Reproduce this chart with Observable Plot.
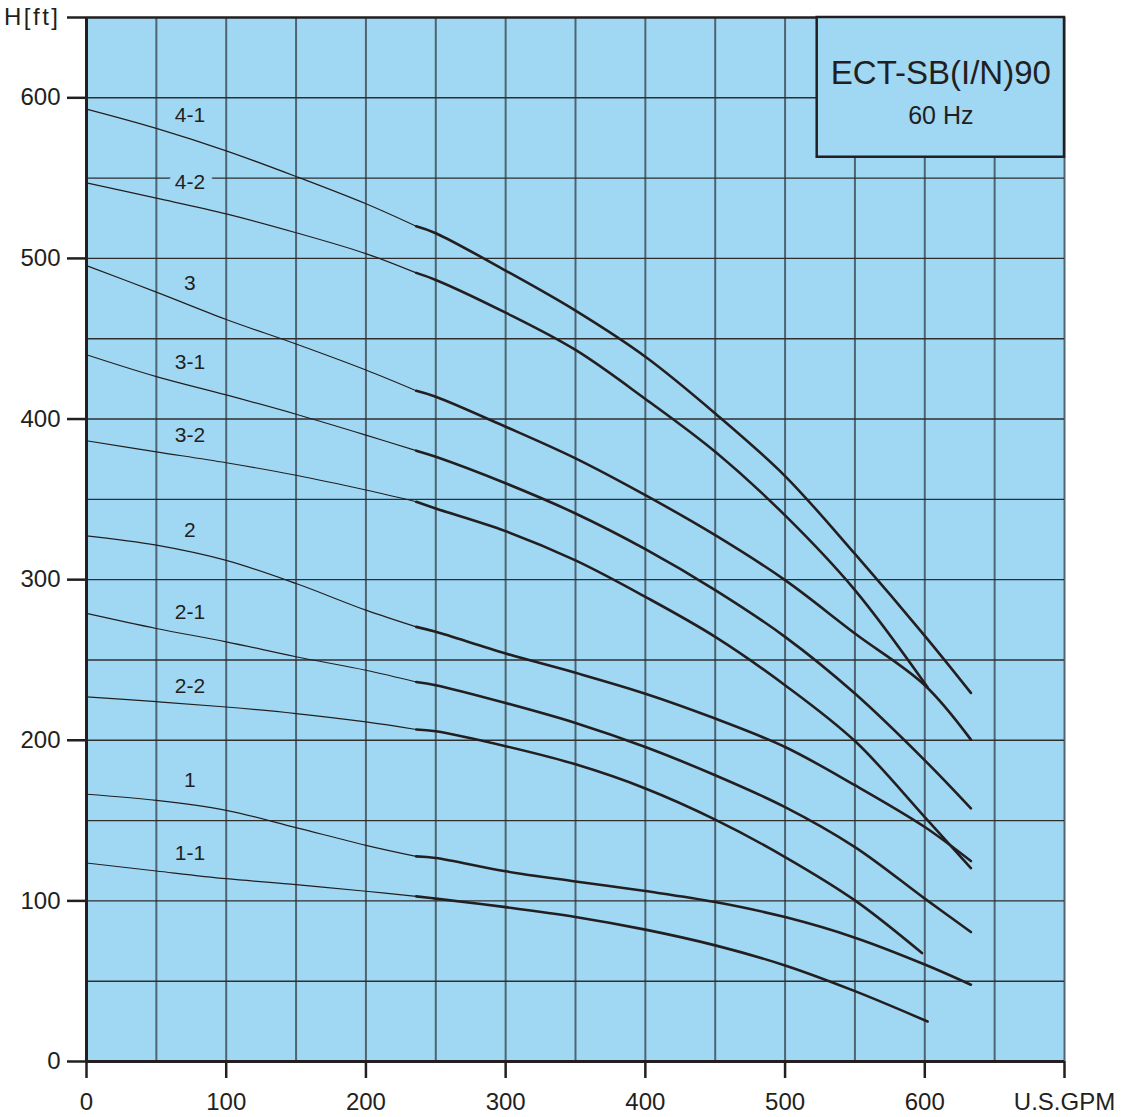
<!DOCTYPE html>
<html>
<head>
<meta charset="utf-8">
<script src="https://cdn.jsdelivr.net/npm/d3@7"></script>
<script src="https://cdn.jsdelivr.net/npm/@observablehq/plot@0.6"></script>
<style>
  html, body { margin: 0; padding: 0; background: #ffffff; }
  #chart { width: 1124px; height: 1117px; }
</style>
</head>
<body>
<div id="chart"></div>
<script>
// ---- data ----
const curveNames = ["4-1", "4-2", "3", "3-1", "3-2", "2", "2-1", "2-2", "1", "1-1"];
// flow points (U.S.GPM); the last value of every head list sits at lastFlow
const flow = [0, 50, 100, 150, 200, 236, 250, 300, 350, 400, 450, 500, 550, 600, 633];
const lastFlow = [633, 602, 633, 633, 633, 633, 633, 598, 633, 602];
const thinUntil = 236; // thin line up to here, thick after

const head_4_1 = [593, 581, 567, 551, 534, 520, 515.7, 492.4, 467.5, 438.8, 403.5, 364.5, 316, 265, 229.5];
const head_4_2 = [547, 537.5, 527.7, 516, 503, 491, 486.6, 466.2, 443, 412.5, 379.6, 340, 293.5, 233];
const head_3   = [495.5, 479, 462, 446.7, 430.5, 417.6, 413.9, 395.2, 375.5, 352.6, 327.7, 299.7, 266.5, 234.3, 200.4];
const head_3_1 = [440, 426.4, 415, 403, 390, 380.3, 376.5, 360, 341.2, 319, 293.5, 264.4, 229.1, 187.5, 157.6];
const head_3_2 = [386.5, 379.6, 372.8, 365, 355.8, 348.5, 344.3, 330.2, 312, 289.3, 264.4, 234.3, 199.5, 152.2, 120.4];
const head_2   = [327.3, 321.5, 312, 297.6, 281, 270.6, 267.5, 254, 242, 229, 213.5, 195.8, 172, 146, 124.8];
const head_2_1 = [279, 269.6, 261.3, 252, 243.6, 236.3, 234.3, 223.2, 210.8, 195.8, 178.2, 158.4, 133.5, 101.4, 80.6];
const head_2_2 = [227, 224, 220.7, 216.6, 211.4, 206.7, 205.6, 196.3, 185, 170, 150.6, 127.3, 100.3, 67.5];
const head_1   = [166.4, 162.6, 156.4, 145.6, 134.6, 127.7, 126.7, 118.4, 112.1, 106.1, 99.3, 89.9, 77.1, 60.4, 47.8];
const head_1_1 = [123.6, 118.6, 113.8, 110.1, 106, 102.8, 101.4, 96.1, 90, 82.1, 72.3, 59.8, 43.8, 24.9];

// curve label anchors (flow, head)
const labelFlow = 74;
const labelHead = [589.4, 547.7, 484.7, 435.5, 390, 330.8, 279.8, 233.6, 175, 129.6];

const xTicks = [0, 100, 200, 300, 400, 500, 600, 700];
const yTicks = [0, 100, 200, 300, 400, 500, 600, 650];
const xUnit = "U.S.GPM";
const yUnit = "H[ft]";
const modelTitle = "ECT-SB(I/N)90";
const modelFreq = "60 Hz";

// ---- build rows ----
const heads = [head_4_1, head_4_2, head_3, head_3_1, head_3_2, head_2, head_2_1, head_2_2, head_1, head_1_1];
const thinRows = [], thickRows = [];
heads.forEach((arr, k) => {
  arr.forEach((h, i) => {
    const q = i === arr.length - 1 ? lastFlow[k] : flow[i];
    const row = {name: curveNames[k], q, h};
    if (q <= thinUntil) thinRows.push(row);
    if (q >= thinUntil) thickRows.push(row);
  });
});
const labels = curveNames.map((name, i) => ({name, q: labelFlow, h: labelHead[i]}));

const bg = "#a0d8f4";
const ink = "#231f20";
const box = {x1: 523, x2: 700, y1: 563, y2: 650};

const chart = Plot.plot({
  width: 1124,
  height: 1117,
  marginLeft: 86,
  marginRight: 60,
  marginTop: 17,
  marginBottom: 56,
  style: {fontFamily: "'Liberation Sans', Arial, Helvetica, sans-serif", background: "#ffffff", color: ink},
  x: {domain: [0, 700]},
  y: {domain: [0, 650]},
  marks: [
    Plot.frame({fill: bg, stroke: null}),
    Plot.ruleX(d3.range(50, 701, 50), {stroke: "#4f6470", strokeWidth: 2}),
    Plot.ruleY(d3.range(50, 601, 50), {stroke: "#2e2e2e", strokeWidth: 1.4}),
    Plot.ruleY([650], {stroke: ink, strokeWidth: 2.5}),
    Plot.rect([box], {x1: "x1", x2: "x2", y1: "y1", y2: "y2", fill: bg, stroke: ink, strokeWidth: 2.5}),
    Plot.text([modelTitle], {x: (box.x1 + box.x2) / 2, y: 615, text: d => d, fontSize: 33, fill: ink}),
    Plot.text([modelFreq], {x: (box.x1 + box.x2) / 2, y: 588.5, text: d => d, fontSize: 25, fill: ink}),
    Plot.line(thinRows, {x: "q", y: "h", z: "name", curve: "catmull-rom", stroke: ink, strokeWidth: 1.2}),
    Plot.line(thickRows, {x: "q", y: "h", z: "name", curve: "catmull-rom", stroke: ink, strokeWidth: 2.6}),
    Plot.text(labels, {x: "q", y: "h", text: "name", fontSize: 21, fill: ink, stroke: bg, strokeWidth: 16, paintOrder: "stroke"}),
    Plot.ruleX([0], {stroke: ink, strokeWidth: 3}),
    Plot.ruleY([0], {stroke: ink, strokeWidth: 3}),
    Plot.axisX({ticks: xTicks, tickSize: 17, tickPadding: 14, fontSize: 24, strokeWidth: 2.5, stroke: ink, fill: ink,
      tickFormat: d => d === 700 ? xUnit : String(d), label: null}),
    Plot.axisY({ticks: yTicks, tickSize: 19, tickPadding: 7, fontSize: 24, strokeWidth: 2.5, stroke: ink, fill: ink,
      tickFormat: d => d === 650 ? yUnit : String(d), label: null})
  ]
});
document.getElementById("chart").appendChild(chart);
// widen the spacing of the vertical-axis unit label as in the reference
d3.select(chart).selectAll("text").filter(function () { return this.textContent === yUnit; })
  .attr("letter-spacing", "2.5px");
</script>
</body>
</html>
